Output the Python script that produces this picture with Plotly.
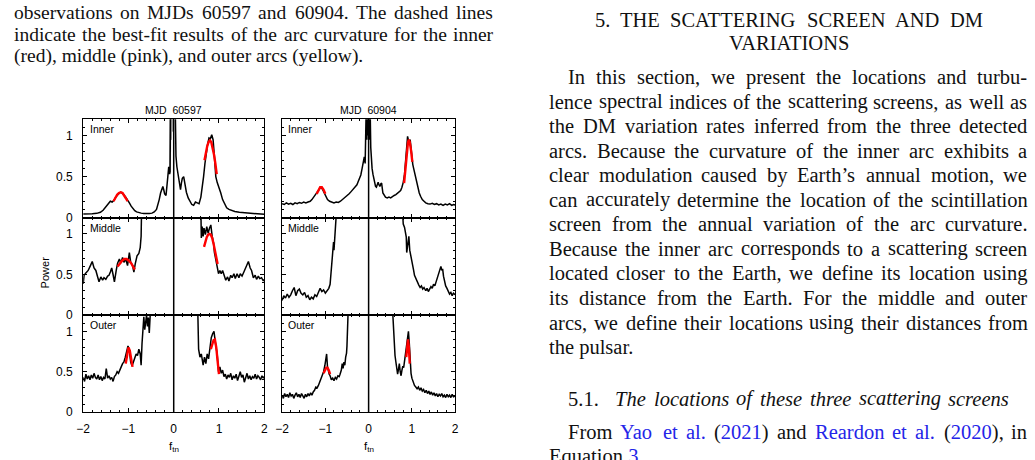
import plotly.graph_objects as go

W, H = 1035, 460

# ---------------- data ----------------
# Inner arc, MJD 60597
inner597_x = [-2.00,-1.90,-1.80,-1.70,-1.62,-1.56,-1.50,-1.45,-1.40,-1.36,-1.32,-1.28,-1.24,-1.20,-1.17,-1.14,-1.10,-1.06,-1.02,-0.98,-0.94,-0.90,-0.86,-0.82,-0.77,-0.72,-0.66,-0.60,-0.54,-0.48,-0.43,-0.38,-0.35,-0.32,-0.29,-0.26,-0.24,-0.22,-0.20,-0.17,-0.15,-0.13,-0.11,-0.09,-0.08,-0.07,
              0.03,0.05,0.07,0.09,0.11,0.13,0.15,0.17,0.19,0.22,0.25,0.28,0.32,0.36,0.40,0.44,0.48,0.52,0.56,0.60,0.63,0.66,0.69,0.72,0.75,0.78,0.81,0.84,0.87,0.90,0.93,0.96,1.00,1.04,1.08,1.12,1.17,1.22,1.28,1.35,1.45,1.55,1.65,1.75,1.85,2.00]
inner597_y = [0.045,0.043,0.047,0.052,0.065,0.09,0.13,0.17,0.20,0.19,0.21,0.25,0.28,0.30,0.31,0.30,0.28,0.25,0.22,0.18,0.14,0.11,0.085,0.07,0.06,0.055,0.05,0.048,0.05,0.055,0.07,0.10,0.15,0.22,0.30,0.36,0.38,0.34,0.29,0.27,0.36,0.50,0.62,0.53,0.56,1.5,
              1.5,0.75,0.62,0.55,0.48,0.40,0.34,0.42,0.48,0.50,0.40,0.31,0.24,0.19,0.16,0.15,0.19,0.18,0.17,0.25,0.36,0.50,0.66,0.80,0.90,0.97,0.96,1.01,0.95,0.74,0.50,0.43,0.37,0.30,0.22,0.17,0.12,0.10,0.085,0.075,0.065,0.06,0.055,0.05,0.045,0.04]
spike597_x = [-0.09,-0.085,-0.08,-0.075,-0.07,-0.065,-0.06,-0.055,-0.05,-0.045,-0.04,-0.035,-0.03,-0.025,-0.02,-0.015,-0.01]
spike597_y = [0.55,1.5,0.70,1.5,0.80,1.5,0.90,1.5,0.95,1.5,1.00,1.5,1.05,1.5,1.10,1.5,1.20]
fit_in597_lx = [-1.33,-1.29,-1.25,-1.21,-1.17,-1.13,-1.09,-1.05,-1.02]
fit_in597_ly = [0.20,0.24,0.28,0.30,0.31,0.30,0.27,0.23,0.20]
fit_in597_rx = [0.68,0.71,0.74,0.77,0.80,0.83,0.86,0.89,0.92,0.95]
fit_in597_ry = [0.70,0.80,0.87,0.92,0.94,0.92,0.86,0.77,0.66,0.53]

# Inner arc, MJD 60904
inner904_x = [-2.00,-1.95,-1.90,-1.85,-1.80,-1.75,-1.70,-1.65,-1.60,-1.55,-1.50,-1.45,-1.40,-1.35,-1.31,-1.27,-1.23,-1.19,-1.15,-1.11,-1.07,-1.03,-0.99,-0.95,-0.90,-0.85,-0.80,-0.75,-0.70,-0.65,-0.60,-0.55,-0.50,-0.45,-0.40,-0.35,-0.31,-0.27,-0.24,-0.21,-0.18,-0.15,-0.12,-0.10,-0.08,-0.06,-0.05,
              -0.04,-0.03,-0.02,-0.01,0.00,0.01,0.02,0.03,0.05,
              0.06,0.08,0.10,0.12,0.14,0.16,0.18,0.20,0.22,0.24,0.26,0.28,0.30,0.33,0.36,0.39,0.43,0.47,0.51,0.55,0.59,0.63,0.67,0.71,0.74,0.77,0.80,0.83,0.85,0.87,0.89,0.90,0.92,0.94,0.96,0.98,1.00,1.02,1.04,1.06,1.08,1.10,1.12,1.14,1.17,1.20,1.24,1.28,1.32,1.37,1.42,1.47,1.52,1.57,1.62,1.67,1.72,1.77,1.82,1.87,1.92,1.96,2.00]
inner904_y = [0.17,0.16,0.18,0.165,0.175,0.16,0.18,0.17,0.185,0.175,0.19,0.18,0.19,0.20,0.22,0.25,0.29,0.32,0.35,0.37,0.35,0.31,0.26,0.22,0.20,0.185,0.18,0.19,0.185,0.20,0.22,0.24,0.27,0.29,0.32,0.35,0.38,0.40,0.44,0.48,0.52,0.60,0.68,0.74,0.66,0.90,1.5,
              0.95,1.5,1.00,1.5,1.10,1.5,0.95,1.5,0.85,
              0.69,0.60,0.53,0.47,0.41,0.38,0.37,0.40,0.43,0.40,0.38,0.41,0.42,0.30,0.27,0.25,0.24,0.25,0.24,0.26,0.27,0.28,0.30,0.31,0.33,0.37,0.43,0.53,0.65,0.80,0.92,0.99,0.94,0.92,0.95,0.83,0.72,0.65,0.60,0.55,0.51,0.49,0.42,0.36,0.30,0.26,0.22,0.20,0.18,0.17,0.165,0.175,0.16,0.17,0.155,0.165,0.15,0.165,0.155,0.17,0.15,0.16,0.155]
fit_in904_lx = [-1.20,-1.16,-1.12,-1.08,-1.04,-1.00]
fit_in904_ly = [0.29,0.34,0.37,0.37,0.34,0.29]
fit_in904_rx = [0.82,0.85,0.88,0.91,0.93,0.95,0.98,1.01]
fit_in904_ry = [0.42,0.62,0.80,0.92,0.95,0.92,0.82,0.68]

# Middle arc, MJD 60597
mid597_lx = [-2.00,-1.98,-1.94,-1.89,-1.84,-1.80,-1.76,-1.72,-1.68,-1.65,-1.61,-1.57,-1.54,-1.50,-1.46,-1.43,-1.40,-1.37,-1.34,-1.31,-1.27,-1.24,-1.20,-1.17,-1.13,-1.10,-1.06,-1.02,-0.98,-0.95,-0.91,-0.88,-0.85,-0.81,-0.77,-0.74,-0.72,-0.71]
mid597_ly = [0.385,0.49,0.52,0.55,0.61,0.66,0.58,0.55,0.47,0.41,0.47,0.43,0.46,0.44,0.48,0.49,0.53,0.58,0.50,0.41,0.55,0.64,0.69,0.64,0.71,0.65,0.69,0.61,0.77,0.65,0.61,0.53,0.63,0.73,0.76,0.83,0.97,1.3]
mid597_rx = [0.60,0.61,0.63,0.65,0.67,0.70,0.73,0.76,0.79,0.82,0.85,0.88,0.90,0.93,0.96,0.99,1.02,1.05,1.08,1.12,1.15,1.19,1.22,1.26,1.29,1.33,1.36,1.40,1.44,1.47,1.51,1.55,1.58,1.62,1.65,1.69,1.72,1.76,1.80,1.83,1.87,1.90,1.94,1.98,2.00]
mid597_ry = [1.3,0.95,1.09,0.97,1.07,0.99,1.09,1.01,1.07,1.11,0.97,0.89,0.77,0.69,0.59,0.51,0.55,0.51,0.55,0.47,0.43,0.47,0.42,0.49,0.46,0.51,0.45,0.51,0.46,0.51,0.48,0.53,0.57,0.61,0.66,0.58,0.55,0.46,0.49,0.44,0.48,0.45,0.46,0.42,0.44]
fit_mid597_lx = [-1.24,-1.19,-1.14,-1.09,-1.04,-0.99,-0.94,-0.89,-0.86]
fit_mid597_ly = [0.60,0.64,0.67,0.69,0.69,0.67,0.64,0.59,0.56]
fit_mid597_rx = [0.67,0.70,0.73,0.76,0.79,0.82,0.85,0.88,0.91,0.94,0.97]
fit_mid597_ry = [0.84,0.91,0.96,0.99,1.00,0.99,0.95,0.88,0.80,0.72,0.63]

# Middle arc, MJD 60904
mid904_lx = [-2.00,-1.96,-1.92,-1.88,-1.84,-1.80,-1.76,-1.72,-1.68,-1.64,-1.60,-1.56,-1.52,-1.48,-1.44,-1.40,-1.36,-1.32,-1.28,-1.24,-1.20,-1.16,-1.12,-1.08,-1.04,-1.00,-0.96,-0.92,-0.89,-0.87,-0.85,-0.83,-0.81,-0.80,-0.78,-0.76,-0.74]
mid904_ly = [0.18,0.24,0.21,0.26,0.22,0.25,0.30,0.34,0.24,0.30,0.32,0.27,0.25,0.28,0.22,0.24,0.19,0.22,0.20,0.25,0.23,0.28,0.33,0.29,0.31,0.27,0.30,0.33,0.38,0.50,0.58,0.70,0.90,0.80,1.00,1.10,1.3]
mid904_rx = [0.78,0.80,0.83,0.85,0.87,0.88,0.90,0.93,0.95,0.98,1.00,1.02,1.04,1.06,1.09,1.11,1.13,1.16,1.19,1.22,1.25,1.28,1.32,1.35,1.38,1.41,1.44,1.47,1.50,1.53,1.56,1.59,1.62,1.65,1.67,1.69,1.71,1.73,1.75,1.78,1.81,1.84,1.87,1.90,1.93,1.96,2.00]
mid904_ry = [1.3,1.12,1.08,1.00,0.96,0.77,0.88,0.97,0.80,0.73,0.66,0.61,0.55,0.49,0.45,0.42,0.41,0.37,0.34,0.36,0.32,0.34,0.30,0.33,0.29,0.32,0.35,0.33,0.38,0.36,0.41,0.45,0.50,0.56,0.60,0.55,0.57,0.48,0.43,0.36,0.33,0.30,0.26,0.28,0.24,0.27,0.25]

# Outer arc, MJD 60597
out597_lx = [-2.00,-1.97,-1.94,-1.91,-1.88,-1.85,-1.82,-1.79,-1.76,-1.73,-1.70,-1.67,-1.64,-1.61,-1.58,-1.55,-1.52,-1.49,-1.46,-1.43,-1.40,-1.37,-1.34,-1.31,-1.28,-1.25,-1.22,-1.19,-1.16,-1.13,-1.10,-1.07,-1.04,-1.01,-0.98,-0.95,-0.92,-0.89,-0.86,-0.83,-0.80,-0.77,-0.74,-0.72,-0.70,-0.68,-0.66,-0.64,-0.62,-0.60,-0.58,-0.56,-0.54,-0.52,-0.51]
out597_ly = [0.43,0.38,0.47,0.41,0.45,0.40,0.46,0.42,0.48,0.43,0.41,0.46,0.40,0.44,0.39,0.43,0.41,0.54,0.42,0.45,0.41,0.43,0.38,0.44,0.46,0.50,0.48,0.53,0.56,0.60,0.62,0.68,0.75,0.82,0.76,0.62,0.57,0.62,0.66,0.72,0.70,0.78,0.72,0.58,0.85,1.05,1.18,1.02,1.15,1.20,1.06,1.17,0.98,1.10,1.3]
out597_rx = [0.53,0.54,0.55,0.58,0.61,0.65,0.68,0.71,0.74,0.77,0.80,0.83,0.86,0.89,0.92,0.96,0.99,1.02,1.05,1.08,1.11,1.14,1.17,1.20,1.23,1.26,1.29,1.32,1.35,1.38,1.41,1.44,1.47,1.50,1.53,1.56,1.59,1.62,1.65,1.68,1.71,1.74,1.77,1.80,1.83,1.86,1.89,1.92,1.95,1.98,2.00]
out597_ry = [1.3,1.00,0.78,0.68,0.72,0.58,0.68,0.60,0.72,0.66,0.78,0.92,0.97,1.00,0.86,0.72,0.50,0.56,0.48,0.52,0.44,0.47,0.41,0.46,0.43,0.48,0.40,0.45,0.42,0.47,0.39,0.44,0.50,0.43,0.46,0.37,0.44,0.48,0.41,0.45,0.40,0.44,0.42,0.47,0.41,0.45,0.43,0.40,0.45,0.42,0.44]
fit_out597_lx = [-1.06,-1.03,-1.00,-0.97,-0.94,-0.91]
fit_out597_ly = [0.60,0.72,0.80,0.76,0.66,0.56]
fit_out597_rx = [0.82,0.85,0.88,0.91,0.94,0.97,1.00]
fit_out597_ry = [0.78,0.85,0.89,0.90,0.80,0.63,0.47]

# Outer arc, MJD 60904
out904_lx = [-2.00,-1.97,-1.94,-1.91,-1.88,-1.85,-1.82,-1.79,-1.76,-1.73,-1.70,-1.67,-1.64,-1.61,-1.58,-1.55,-1.52,-1.49,-1.46,-1.43,-1.40,-1.37,-1.34,-1.31,-1.28,-1.25,-1.22,-1.19,-1.16,-1.12,-1.08,-1.04,-1.01,-0.99,-0.97,-0.95,-0.93,-0.91,-0.89,-0.86,-0.83,-0.80,-0.77,-0.74,-0.71,-0.68,-0.66,-0.63,-0.61,-0.59,-0.57,-0.55,-0.53,-0.51,-0.50,-0.49,-0.48,-0.47]
out904_ly = [0.21,0.17,0.23,0.19,0.22,0.18,0.24,0.20,0.22,0.17,0.21,0.24,0.19,0.22,0.18,0.23,0.20,0.17,0.22,0.19,0.23,0.20,0.24,0.21,0.25,0.27,0.31,0.30,0.33,0.38,0.44,0.50,0.58,0.66,0.72,0.56,0.50,0.47,0.45,0.40,0.42,0.39,0.43,0.41,0.45,0.44,0.47,0.52,0.60,0.54,0.62,0.58,0.68,0.73,0.82,0.95,1.10,1.3]
out904_rx = [0.55,0.57,0.59,0.61,0.63,0.65,0.67,0.69,0.71,0.73,0.75,0.77,0.79,0.81,0.83,0.86,0.88,0.90,0.92,0.94,0.96,0.98,1.00,1.03,1.06,1.09,1.12,1.15,1.18,1.21,1.24,1.27,1.30,1.33,1.36,1.39,1.42,1.45,1.48,1.51,1.54,1.57,1.60,1.63,1.66,1.69,1.72,1.75,1.78,1.81,1.84,1.87,1.90,1.93,1.96,2.00]
out904_ry = [1.3,1.05,0.85,0.70,0.62,0.52,0.47,0.53,0.60,0.50,0.45,0.52,0.57,0.55,0.63,0.72,0.80,0.92,1.00,0.85,0.62,0.48,0.42,0.36,0.33,0.31,0.29,0.31,0.27,0.30,0.26,0.28,0.24,0.27,0.23,0.26,0.22,0.25,0.21,0.24,0.20,0.23,0.19,0.22,0.20,0.23,0.19,0.21,0.18,0.22,0.19,0.21,0.18,0.22,0.19,0.20]
fit_out904_lx = [-1.04,-1.01,-0.98,-0.95,-0.92,-0.89]
fit_out904_ly = [0.48,0.53,0.55,0.55,0.52,0.47]
fit_out904_rx = [0.87,0.89,0.91,0.93,0.95]
fit_out904_ry = [0.68,0.82,0.90,0.80,0.60]

titles = ["MJD  60597", "MJD  60904"]
row_labels = ["Inner", "Middle", "Outer"]
x_ticks = [-2, -1, 0, 1, 2]
y_ticks = [0, 0.5, 1]

# ---------------- page text ----------------
caption_lines = [
    "observations on MJDs 60597 and 60904. The dashed lines",
    "indicate the best-fit results of the arc curvature for the inner",
    "(red), middle (pink), and outer arcs (yellow).",
]
heading1 = "5. THE SCATTERING SCREEN AND DM"
heading2 = "VARIATIONS"
body_lines = [
    "In this section, we present the locations and turbu-",
    "lence spectral indices of the scattering screens, as well as",
    "the DM variation rates inferred from the three detected",
    "arcs. Because the curvature of the inner arc exhibits a",
    "clear modulation caused by Earth’s annual motion, we",
    "can accurately determine the location of the scintillation",
    "screen from the annual variation of the arc curvature.",
    "Because the inner arc corresponds to a scattering screen",
    "located closer to the Earth, we define its location using",
    "its distance from the Earth. For the middle and outer",
    "arcs, we define their locations using their distances from",
    "the pulsar.",
]
sub_num = "5.1."
sub_title = "The locations of these three scattering screens"
from_line = "From {Yao} {et} {al.} ({2021}) and {Reardon} {et} {al.} ({2020}), in"
eq_line = "Equation {3}."

# ---------------- helpers ----------------
TW = {' ':250,'(':333,')':333,',':250,'-':333,'.':250,'’':333,"'":333,':':278,
      'A':722,'B':667,'C':667,'D':722,'E':611,'F':556,'G':722,'H':722,'I':333,'J':389,'K':722,'L':611,'M':889,
      'N':722,'O':722,'P':556,'Q':722,'R':667,'S':556,'T':611,'U':722,'V':722,'W':944,'X':722,'Y':722,'Z':611,
      'a':444,'b':500,'c':444,'d':500,'e':444,'f':333,'g':500,'h':500,'i':278,'j':278,'k':500,'l':278,'m':778,
      'n':500,'o':500,'p':500,'q':500,'r':333,'s':389,'t':278,'u':500,'v':500,'w':722,'x':500,'y':500,'z':444}
for d in '0123456789':
    TW[d] = 500
TI = dict(TW)
TI.update({'T':556,'a':500,'f':278,'r':389,'k':444,'m':722,'v':444,'w':667,'y':444,'z':389})

SERIF = "Liberation Serif"
SANS = "Liberation Sans"
LINK = "#2424e8"
TXT = "#111111"

def plain(s):
    return s.replace('{', '').replace('}', '')

def markup(s):
    return s.replace('{', f"<span style='color:{LINK}'>").replace('}', '</span>')

def wem(s, table):
    return sum(table.get(c, 500) for c in plain(s)) / 1000.0

annotations = []

def put(text, xpx, ypx, size, anchor='left', italic=False):
    t = markup(text)
    if italic:
        t = '<i>' + t + '</i>'
    annotations.append(dict(text=t, x=xpx / W, y=1 - ypx / H, xref='paper', yref='paper',
                            xanchor=anchor, yanchor='middle', showarrow=False, borderpad=0,
                            font=dict(family=SERIF, size=size, color=TXT)))

def justify(line, x0, x1, ypx, size, italic=False):
    table = TI if italic else TW
    words = line.split(' ')
    widths = [wem(w, table) * size for w in words]
    gap = (x1 - x0 - sum(widths)) / (len(words) - 1)
    x = x0
    for w, wd in zip(words, widths):
        put(w, x, ypx, size, italic=italic)
        x += wd + gap

# caption (left column of the page)
CAP = 19.5
cap_y = [13, 35, 56.5]
justify(caption_lines[0], 6, 490, cap_y[0], CAP)
justify(caption_lines[1], 6, 490, cap_y[1], CAP)
put(caption_lines[2], 6, cap_y[2], CAP)

# right column of the page
BODY = 20.5
justify(heading1, 593, 985, 20, BODY)
put(heading2, 790, 44, BODY, anchor='center')
y0, dy = 78.5, 24.9
for i, line in enumerate(body_lines):
    yy = y0 + i * dy
    if i == 0:
        justify(line, 566, 1030, yy, BODY)
    elif i == len(body_lines) - 1:
        put(line, 547, yy, BODY)
    else:
        justify(line, 547, 1030, yy, BODY)
put(sub_num, 566, 405, BODY)
justify(sub_title, 614, 1012, 405, BODY, italic=True)
justify(from_line, 566, 1030, 439, BODY)
put(eq_line, 547, 464, BODY)

# ---------------- figure ----------------
col_px = [(77, 260), (278, 453)]
row_px = [(121, 221), (221, 320), (320, 418.5)]

panels = [
    # (row, col, black segments, grey segments, red fits)
    (0, 0, [(inner597_x, inner597_y)], [(spike597_x, spike597_y)],
     [(fit_in597_lx, fit_in597_ly), (fit_in597_rx, fit_in597_ry)]),
    (0, 1, [(inner904_x, inner904_y)], [],
     [(fit_in904_lx, fit_in904_ly), (fit_in904_rx, fit_in904_ry)]),
    (1, 0, [(mid597_lx, mid597_ly), (mid597_rx, mid597_ry)], [],
     [(fit_mid597_lx, fit_mid597_ly), (fit_mid597_rx, fit_mid597_ry)]),
    (1, 1, [(mid904_lx, mid904_ly), (mid904_rx, mid904_ry)], [], []),
    (2, 0, [(out597_lx, out597_ly), (out597_rx, out597_ry)], [],
     [(fit_out597_lx, fit_out597_ly), (fit_out597_rx, fit_out597_ry)]),
    (2, 1, [(out904_lx, out904_ly), (out904_rx, out904_ry)], [],
     [(fit_out904_lx, fit_out904_ly), (fit_out904_rx, fit_out904_ry)]),
]

fig = go.Figure()
layout = dict(width=W, height=H, margin=dict(l=0, r=0, t=0, b=0),
              paper_bgcolor='white', plot_bgcolor='white', showlegend=False)
shapes = []
tickfont = dict(family=SANS, size=12, color='black')

for k, (r, c, blacks, greys, reds) in enumerate(panels):
    n = k + 1
    xa = 'x' if n == 1 else f'x{n}'
    ya = 'y' if n == 1 else f'y{n}'
    for gx, gy in greys:
        fig.add_trace(go.Scatter(x=gx, y=gy, mode='lines', xaxis=xa, yaxis=ya,
                                 line=dict(color='#999999', width=1), hoverinfo='skip'))
    for bx, by in blacks:
        fig.add_trace(go.Scatter(x=bx, y=by, mode='lines', xaxis=xa, yaxis=ya,
                                 line=dict(color='black', width=1.5), hoverinfo='skip'))
    for rx, ry in reds:
        fig.add_trace(go.Scatter(x=rx, y=ry, mode='lines', xaxis=xa, yaxis=ya,
                                 line=dict(color='#ff0000', width=2.4), hoverinfo='skip'))
    xd = [col_px[c][0] / W, col_px[c][1] / W]
    yd = [1 - row_px[r][1] / H, 1 - row_px[r][0] / H]
    common = dict(ticks='inside', ticklen=4, tickwidth=1, tickcolor='black',
                  showline=True, linecolor='black', linewidth=1.2, mirror='allticks',
                  showgrid=False, zeroline=False, tickfont=tickfont)
    layout['xaxis' if n == 1 else f'xaxis{n}'] = dict(
        domain=xd, anchor=ya, range=[-2, 2], tickmode='array', tickvals=x_ticks,
        minor=dict(ticks='inside', ticklen=2, tickcolor='black', dtick=0.2, tick0=0, showgrid=False),
        showticklabels=(r == 2), ticklabelstandoff=5, **common)
    layout['yaxis' if n == 1 else f'yaxis{n}'] = dict(
        domain=yd, anchor=xa, range=[0, 1.2], tickmode='array', tickvals=y_ticks,
        minor=dict(ticks='inside', ticklen=2, tickcolor='black', dtick=0.1, tick0=0, showgrid=False),
        showticklabels=(c == 0), ticklabelstandoff=7, **common)
    shapes.append(dict(type='line', xref=xa, yref=f'{ya} domain', x0=0, x1=0, y0=0, y1=1,
                       line=dict(color='black', width=1.5)))
    annotations.append(dict(text=row_labels[r], xref=f'{xa} domain', yref=f'{ya} domain',
                            x=0.03, y=0.97, xanchor='left', yanchor='top', showarrow=False,
                            borderpad=0, font=dict(family=SANS, size=10.5, color='black')))

for c in range(2):
    cx = (col_px[c][0] + col_px[c][1]) / 2
    annotations.append(dict(text=titles[c], x=cx / W, y=1 - 112 / H, xref='paper', yref='paper',
                            xanchor='center', yanchor='middle', showarrow=False, borderpad=0,
                            font=dict(family=SANS, size=10.5, color='black')))
    annotations.append(dict(text='f<sub>tn</sub>', x=cx / W, y=1 - 454 / H, xref='paper', yref='paper',
                            xanchor='center', yanchor='middle', showarrow=False, borderpad=0,
                            font=dict(family=SANS, size=11.5, color='black')))
annotations.append(dict(text='Power', x=38 / W, y=1 - 277 / H, xref='paper', yref='paper',
                        xanchor='center', yanchor='middle', textangle=-90, showarrow=False, borderpad=0,
                        font=dict(family=SANS, size=11, color='black')))

layout['shapes'] = shapes
layout['annotations'] = annotations
fig.update_layout(**layout)
fig.write_html("out.html")
